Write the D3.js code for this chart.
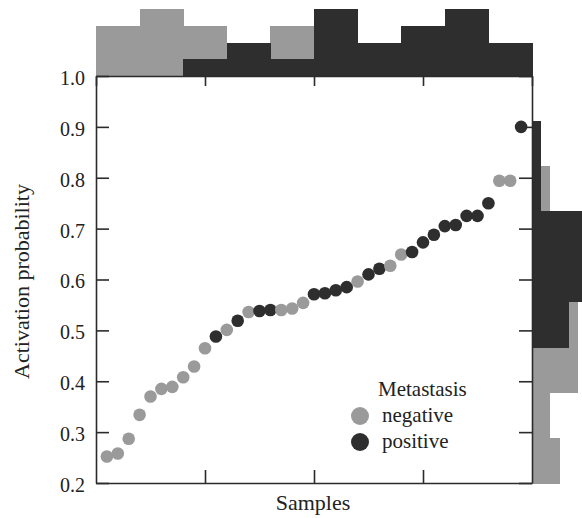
<!DOCTYPE html>
<html>
<head>
<meta charset="utf-8">
<script src="https://cdn.jsdelivr.net/npm/d3@7"></script>
<style>
  body { margin: 0; background: #fff; }
</style>
</head>
<body>
<div class="canvas"></div>
<script>
// activation probability per sample, sorted
const activation = [0.252, 0.258, 0.287, 0.334, 0.370, 0.385, 0.389, 0.408, 0.429, 0.465,
  0.488, 0.501, 0.519, 0.536, 0.538, 0.540, 0.540, 0.543, 0.554, 0.571,
  0.573, 0.579, 0.585, 0.596, 0.610, 0.621, 0.627, 0.649, 0.654, 0.673,
  0.688, 0.705, 0.707, 0.725, 0.725, 0.750, 0.794, 0.794, 0.900];
// metastasis status of each sample, same order
const status = ["negative","negative","negative","negative","negative","negative","negative","negative","negative","negative",
  "positive","negative","positive","negative","positive","positive","negative","negative","negative","positive",
  "positive","positive","positive","negative","positive","positive","negative","negative","positive","positive",
  "positive","positive","positive","positive","positive","positive","negative","negative","positive"];
const yTicks = [0.2, 0.3, 0.4, 0.5, 0.6, 0.7, 0.8, 0.9, 1.0];
const xTicksBottom = [10, 20, 30];
const xTicksTop = [0, 10, 20, 30, 40];
const sampleBins = [0, 4, 8, 12, 16, 20, 24, 28, 32, 36, 40];
const probBins = [0.2, 0.289, 0.378, 0.467, 0.556, 0.645, 0.734, 0.823, 0.912];
const groups = ["negative", "positive"];

const dims = {width: 582, height: 518};
const plot = {left: 96, right: 532, top: 76, bottom: 483};
const serif = "Liberation Serif";

const svg = d3.select(".canvas")
  .append("svg")
  .attr("width", dims.width)
  .attr("height", dims.height)
  .attr("font-family", serif);

const color = d3.scaleOrdinal().domain(groups).range(["#9a9a9a", "#2e2e2e"]);

const x = d3.scaleLinear().domain([0, 40]).range([plot.left, plot.right]);
const y = d3.scaleLinear().domain([0.2, 1.0]).range([plot.bottom, plot.top]);

const data = activation.map((v, i) => ({i: i + 1, v: v, s: status[i]}));

// top histogram (count of samples per block of 4)
const yTop = d3.scaleLinear().domain([0, 4]).range([plot.top, 9]);
const binX = d3.bin().value(d => d.i).domain([0, 40]).thresholds(sampleBins.slice(1, -1));
const topG = svg.append("g").attr("shape-rendering", "crispEdges");
groups.forEach(g => {
  const bins = binX(data.filter(d => d.s === g));
  topG.selectAll(null).data(bins).enter().append("rect")
    .attr("x", b => x(b.x0))
    .attr("width", b => x(b.x1) - x(b.x0) + 0.5)
    .attr("y", b => yTop(b.length))
    .attr("height", b => yTop(0) - yTop(b.length))
    .attr("fill", color(g));
});

// right histogram (count of samples per probability bin)
const xRight = d3.scaleLinear().domain([0, 5]).range([plot.right, 578]);
const binY = d3.bin().value(d => d.v).domain([probBins[0], probBins[probBins.length - 1]])
  .thresholds(probBins.slice(1, -1));
const rightG = svg.append("g").attr("shape-rendering", "crispEdges");
groups.forEach(g => {
  const bins = binY(data.filter(d => d.s === g));
  rightG.selectAll(null).data(bins).enter().append("rect")
    .attr("x", xRight(0))
    .attr("width", b => xRight(b.length) - xRight(0))
    .attr("y", b => y(b.x1))
    .attr("height", b => y(b.x0) - y(b.x1) + 0.5)
    .attr("fill", color(g));
});

// frame axes, ticks pointing inward
const styleAxis = sel => {
  sel.attr("font-family", serif);
  sel.selectAll("path, line").attr("stroke", "#2b2b2b").attr("stroke-width", 1.6);
  sel.selectAll("text").attr("fill", "#222");
};

svg.append("g")
  .attr("transform", `translate(${plot.left},0)`)
  .call(d3.axisLeft(y).tickValues(yTicks).tickFormat(d3.format(".1f"))
    .tickSizeInner(-13).tickSizeOuter(0).tickPadding(11))
  .call(styleAxis)
  .call(g => g.selectAll("text").attr("font-size", 20).attr("dy", "0.42em"));

svg.append("g")
  .attr("transform", `translate(${plot.right},0)`)
  .call(d3.axisRight(y).tickValues(yTicks).tickFormat("").tickSizeInner(-13).tickSizeOuter(0))
  .call(styleAxis);

svg.append("g")
  .attr("transform", `translate(0,${plot.bottom})`)
  .call(d3.axisBottom(x).tickValues(xTicksBottom).tickFormat("").tickSizeInner(-13).tickSizeOuter(0))
  .call(styleAxis);

svg.append("g")
  .attr("transform", `translate(0,${plot.top})`)
  .call(d3.axisTop(x).tickValues(xTicksTop).tickFormat("").tickSizeInner(-10).tickSizeOuter(0))
  .call(styleAxis);

// points
svg.append("g").selectAll("circle")
  .data(data).enter().append("circle")
  .attr("cx", d => x(d.i))
  .attr("cy", d => y(d.v))
  .attr("r", 6.3)
  .attr("fill", d => color(d.s));

// axis titles
svg.append("text")
  .attr("transform", "translate(28.5,281.5) rotate(-90)")
  .attr("text-anchor", "middle")
  .attr("font-size", 22)
  .attr("fill", "#222")
  .text("Activation probability");

svg.append("text")
  .attr("x", 313).attr("y", 510)
  .attr("text-anchor", "middle")
  .attr("font-size", 22)
  .attr("fill", "#222")
  .text("Samples");

// legend
const legend = svg.append("g");
legend.append("text")
  .attr("x", 378).attr("y", 396)
  .attr("font-size", 21)
  .attr("fill", "#222")
  .text("Metastasis");
const items = legend.selectAll("g.item").data(groups).enter().append("g")
  .attr("class", "item")
  .attr("transform", (d, i) => `translate(0,${416 + i * 26})`);
items.append("circle").attr("cx", 360).attr("cy", 0).attr("r", 9).attr("fill", d => color(d));
items.append("text").attr("x", 382).attr("y", 6).attr("font-size", 21).attr("fill", "#222").text(d => d);
</script>
</body>
</html>
